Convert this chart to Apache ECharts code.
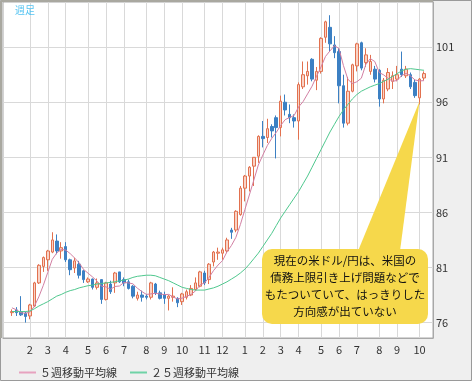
<!DOCTYPE html>
<html><head><meta charset="utf-8">
<script src="https://cdn.jsdelivr.net/npm/echarts@6/dist/echarts.min.js"></script>
<style>html,body{margin:0;padding:0;background:#fff}#c{width:475px;height:386px}</style>
</head><body><div id="c"></div>
<script>
// weekly candles (week starting Monday), USD/JPY
const weeks = [
'2012-01-09','2012-01-16','2012-01-23','2012-01-30','2012-02-06','2012-02-13','2012-02-20','2012-02-27',
'2012-03-05','2012-03-12','2012-03-19','2012-03-26','2012-04-02','2012-04-09','2012-04-16','2012-04-23','2012-04-30',
'2012-05-07','2012-05-14','2012-05-21','2012-05-28','2012-06-04','2012-06-11','2012-06-18','2012-06-25',
'2012-07-02','2012-07-09','2012-07-16','2012-07-23','2012-07-30','2012-08-06','2012-08-13','2012-08-20','2012-08-27',
'2012-09-03','2012-09-10','2012-09-17','2012-09-24','2012-10-01','2012-10-08','2012-10-15','2012-10-22','2012-10-29',
'2012-11-05','2012-11-12','2012-11-19','2012-11-26','2012-12-03','2012-12-10','2012-12-17','2012-12-24','2012-12-31',
'2013-01-07','2013-01-14','2013-01-21','2013-01-28','2013-02-04','2013-02-11','2013-02-18','2013-02-25',
'2013-03-04','2013-03-11','2013-03-18','2013-03-25','2013-04-01','2013-04-08','2013-04-15','2013-04-22','2013-04-29',
'2013-05-06','2013-05-13','2013-05-20','2013-05-27','2013-06-03','2013-06-10','2013-06-17','2013-06-24',
'2013-07-01','2013-07-08','2013-07-15','2013-07-22','2013-07-29','2013-08-05','2013-08-12','2013-08-19','2013-08-26',
'2013-09-02','2013-09-09','2013-09-16','2013-09-23','2013-09-30','2013-10-07','2013-10-14'];
const open = [76.9,77.15,77.0,76.85,76.6,77.5,79.6,81.1,81.7,82.4,83.4,82.5,82.9,81.7,80.95,81.3,80.7,79.7,79.95,79.2,79.9,78.1,79.5,79.6,80.6,
79.9,79.7,79.3,78.2,78.5,78.4,78.3,79.5,78.7,78.5,78.2,78.3,78.2,77.9,78.3,78.5,79.0,79.3,80.5,79.9,81.5,82.3,82.3,82.5,84.4,84.4,85.8,
88.2,89.3,90.2,91.1,92.9,92.8,93.8,94.6,93.7,96.0,94.9,94.6,94.3,97.4,98.4,99.9,98.0,98.8,101.9,102.8,101.2,100.6,97.5,94.1,97.0,
99.3,101.4,99.6,98.8,99.0,98.9,96.3,97.2,97.9,98.1,99.0,98.4,98.5,97.8,96.4,98.2];
const close = [77.0,76.9,76.7,76.55,77.6,79.6,81.2,81.9,82.5,83.5,82.5,82.8,81.7,80.8,81.6,80.3,79.9,79.95,79.2,79.6,78.1,79.6,78.8,80.5,79.7,
79.6,79.1,78.4,78.5,78.3,78.3,79.6,78.7,78.2,78.2,78.4,78.4,77.8,78.6,78.8,79.1,79.6,80.6,79.6,81.3,82.4,82.4,82.6,83.5,84.2,86.1,88.2,
89.3,90.1,91.0,92.9,92.7,93.6,93.4,93.7,96.1,95.3,94.6,94.3,97.6,98.5,98.8,98.1,98.8,101.8,103.3,101.3,100.5,97.5,94.1,97.0,99.4,
101.3,99.1,100.3,99.7,98.1,96.3,98.0,98.7,98.4,98.5,98.5,99.0,97.4,96.6,98.1,98.6];
const low = [76.6,76.6,76.6,76.0,76.3,77.4,79.5,80.6,80.7,82.3,82.2,81.8,81.5,80.3,80.5,80.0,79.6,79.6,79.0,79.0,77.7,78.0,78.6,78.7,79.6,
79.3,79.0,78.2,78.0,77.9,78.1,78.1,78.5,78.1,77.7,77.1,77.9,77.4,77.6,78.1,78.4,78.9,79.2,79.4,79.5,81.1,81.7,81.7,82.3,83.6,84.2,85.7,
87.0,87.9,88.4,90.5,91.9,92.3,92.8,90.9,92.9,94.8,94.1,93.7,92.6,97.2,97.6,97.9,97.1,98.6,101.4,100.6,100.0,95.9,93.7,93.9,96.9,
98.8,98.9,99.2,98.5,97.8,95.6,95.9,97.0,97.2,97.9,98.3,98.2,97.2,96.4,95.8,98.0];
const high = [77.2,77.4,78.4,77.0,77.7,79.7,81.3,82.0,82.6,84.2,84.0,83.3,83.3,81.8,81.9,81.6,80.8,80.1,80.0,80.0,79.9,79.7,79.8,80.6,80.6,
80.1,79.9,79.4,78.8,78.9,78.6,79.7,79.6,78.9,78.8,78.5,79.2,78.3,78.7,79.0,79.4,80.1,80.7,80.7,81.4,82.5,82.8,82.8,83.7,84.6,86.2,88.4,
89.4,90.2,91.0,93.0,94.3,94.5,94.0,94.8,96.6,96.7,95.8,94.9,97.8,99.7,99.7,100.0,99.2,101.9,103.4,103.9,102.0,100.9,98.5,98.3,99.5,
101.4,101.5,100.9,100.3,99.3,99.0,98.2,99.1,98.8,99.3,100.6,99.3,98.7,98.1,98.2,98.8];
const ma5 = [77.34,77.16,76.9,76.84,76.96,77.48,78.34,79.38,80.56,81.74,82.32,82.64,82.58,82.26,81.86,81.42,80.82,80.48,80.14,79.76,79.3,79.24,79.02,79.28,79.32,
79.64,79.6,79.52,79.12,78.82,78.56,78.6,78.66,78.6,78.54,78.56,78.32,78.14,78.22,78.38,78.56,78.88,79.42,79.6,80.1,80.72,81.22,81.62,82.42,83.0,83.74,84.9,
86.26,87.58,88.94,90.3,91.2,92.06,92.72,93.26,93.9,94.42,94.62,94.8,95.58,96.06,96.76,97.46,98.36,99.2,100.16,100.66,101.14,100.88,99.34,98.08,97.7,
97.86,98.18,99.42,99.96,99.7,98.7,98.48,98.16,97.9,97.98,98.42,98.62,98.38,98.02,97.94,97.96];
const ma25 = [77.0,77.0,77.0,77.0,77.05,77.25,77.5,77.7,77.9,78.15,78.4,78.55,78.75,78.9,79.0,79.15,79.25,79.35,79.4,79.5,79.55,79.6,79.65,79.7,79.8,
79.85,79.95,80.1,80.2,80.25,80.3,80.3,80.25,80.1,79.95,79.8,79.6,79.4,79.2,79.1,79.0,78.95,78.95,78.95,79.05,79.15,79.3,79.5,79.7,79.95,80.2,80.5,
80.85,81.3,81.8,82.3,82.9,83.5,84.1,84.8,85.5,86.1,86.7,87.3,87.9,88.6,89.3,90.1,90.9,91.7,92.5,93.3,94.0,94.7,95.3,95.8,96.3,
96.7,97.0,97.2,97.4,97.55,97.7,97.9,98.1,98.35,98.6,98.85,99.0,99.05,99.0,98.95,98.9];
const yTicks = [76,81,86,91,96,101];
const seriesNames = ['５週移動平均線','２５週移動平均線'];
const note = ['現在の米ドル/円は、米国の','債務上限引き上げ問題などで','もたついていて、はっきりした','方向感が出ていない'];
const noteAnchor = ['2013-10-07', 96.1];

const padL = ['_a','_b'], padR = ['_c','_d'];
const cats = padL.concat(weeks, padR);
const candle = weeks.map((w,i)=>[w, open[i], close[i], low[i], high[i]]);
const l5 = weeks.map((w,i)=>[w, ma5[i]]);
const l25 = weeks.map((w,i)=>[w, ma25[i]]);
const isMonthStart = v => /^\d{4}-\d\d-0[1-7]$/.test(v);

const chart = echarts.init(document.getElementById('c'), null, {renderer:'canvas'});
const FONT = '"Noto Sans CJK JP", "Noto Sans", sans-serif';
chart.setOption({
  animation:false,
  backgroundColor:'#ffffff',
  grid:{left:3, right:42, top:2, bottom:48, show:true, backgroundColor:'#ffffff', borderColor:'#a8a8a8', borderWidth:1},
  xAxis:{type:'category', data:cats, boundaryGap:false,
    axisLine:{show:true, lineStyle:{color:'#a8a8a8'}}, axisTick:{show:false},
    axisLabel:{interval:(i,v)=>isMonthStart(v), formatter:v=>String(parseInt(v.slice(5,7),10)), color:'#333', fontSize:11, fontFamily:FONT, margin:6},
    splitLine:{show:true, interval:(i,v)=>isMonthStart(v), lineStyle:{color:'#d9d9d9', width:1}}},
  yAxis:{type:'value', position:'right', min:74.6, max:105.1, scale:true,
    axisLine:{show:true, lineStyle:{color:'#a8a8a8'}},
    axisTick:{show:false, customValues:yTicks},
    axisLabel:{customValues:yTicks, color:'#333', fontSize:11, fontFamily:FONT, margin:3},
    splitLine:{show:true, lineStyle:{color:'#d9d9d9', width:1}}},
  legend:{left:14, top:362, itemGap:13, itemWidth:17, itemHeight:2, icon:'rect',
    textStyle:{fontSize:11, color:'#333', fontFamily:FONT, padding:[0,0,0,-1]},
    data:[{name:seriesNames[0], itemStyle:{color:'#e7a2bf'}},{name:seriesNames[1], itemStyle:{color:'#6fd3a6'}}]},
  series:[
    {type:'candlestick', name:'週足', data:candle, encode:{x:0,y:[1,2,3,4]}, barWidth:3, z:3,
      itemStyle:{color:'#f8d3c6', color0:'#3c80c3', borderColor:'#e2714f', borderColor0:'#3c80c3', borderWidth:1}},
    {type:'line', name:seriesNames[0], data:l5, showSymbol:false, symbol:'none', z:4,
      lineStyle:{color:'#d27fa3', width:1}, itemStyle:{color:'#d27fa3'}},
    {type:'line', name:seriesNames[1], data:l25, showSymbol:false, symbol:'none', z:4,
      lineStyle:{color:'#4fc88e', width:1}, itemStyle:{color:'#4fc88e'}}
  ]
});
const apex = chart.convertToPixel({xAxisIndex:0, yAxisIndex:0}, noteAnchor);
const bx=262, by=249, bw=166, bh=75;
chart.setOption({graphic:[
  {type:'rect', z:-10, silent:true, shape:{x:0.5,y:0.5,width:471,height:380}, style:{fill:'#efefef', stroke:'#9a9a9a', lineWidth:1}},
  {type:'line', z:50, shape:{x1:1,y1:1,x2:1,y2:338}, style:{stroke:'#a9a8a0', lineWidth:2}},
  {type:'line', z:50, shape:{x1:1,y1:1,x2:433,y2:1}, style:{stroke:'#a9a8a0', lineWidth:2}},
  {type:'text', z:50, left:15, top:5, style:{text:'週足', fill:'#55c4f2', font:'10px '+FONT}},
  {type:'polygon', z:60, shape:{points:[[358,by+2],[400,by+2],[apex[0],apex[1]]]}, style:{fill:'#f6d84b'}},
  {type:'rect', z:60, shape:{x:bx,y:by,width:bw,height:bh,r:10}, style:{fill:'#f6d84b'}},
  {type:'text', z:61, x:bx+bw/2, y:by+bh/2, style:{text:note.join('\n'), fill:'#111', font:'11.5px '+FONT, lineHeight:17, align:'center', verticalAlign:'middle'}}
]});
</script></body></html>
